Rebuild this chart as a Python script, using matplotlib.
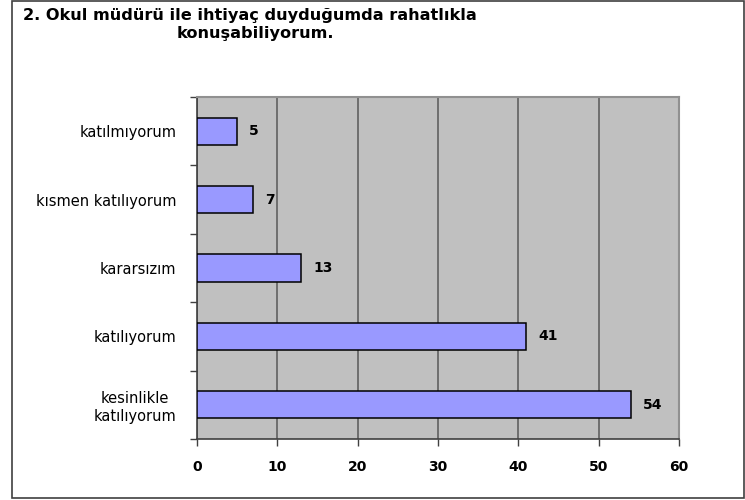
import matplotlib
matplotlib.use('Agg')
import matplotlib.pyplot as plt
from matplotlib.patches import Rectangle
import numpy as np

plt.rcParams['font.family'] = ['DejaVu Sans']

# data (top to bottom)
categories = ['katılmıyorum', 'kısmen katılıyorum', 'kararsızım',
              'katılıyorum', 'kesinlikle\nkatılıyorum']
values = [5, 7, 13, 41, 54]
xticks = [0, 10, 20, 30, 40, 50, 60]

fig = plt.figure(figsize=(7.45, 5), dpi=100)
W, H = 745, 500

# outer frame
fig.patches.append(Rectangle((12/W, 1 - 498/H), (744-12)/W, (498-1)/H,
                             transform=fig.transFigure, fill=False,
                             edgecolor='#404040', linewidth=1.2))

ax = fig.add_axes([197/W, 1 - 439/H, (679-197)/W, (439-97)/H])
ax.set_facecolor('#c0c0c0')

pos = np.arange(len(categories))
ax.barh(pos, values, height=0.4, color='#9999ff', edgecolor='black',
        linewidth=1.1, zorder=3)
for p, v in zip(pos, values):
    ax.text(v + 1.5, p, str(v), va='center', ha='left', fontsize=10,
            fontweight='bold')

ax.set_xlim(0, 60)
ax.set_ylim(len(categories) - 0.5, -0.5)
ax.set_xticks(xticks)
ax.set_xticklabels([str(t) for t in xticks], fontweight='bold', fontsize=10)
ax.set_yticks(pos)
ax.set_yticklabels(categories, fontsize=10.5, multialignment='center')
ax.set_yticks(np.arange(len(categories) + 1) - 0.5, minor=True)
ax.tick_params(axis='y', which='major', length=0, pad=15)
ax.tick_params(axis='y', which='minor', length=5, width=1, color='#404040')
ax.tick_params(axis='x', length=5, width=1, color='#404040', pad=10)

ax.grid(axis='x', color='#606060', linewidth=1.2, zorder=1)
for s in ['top', 'right']:
    ax.spines[s].set_color('#909090')
    ax.spines[s].set_linewidth(1.5)
for s in ['left', 'bottom']:
    ax.spines[s].set_color('#404040')
    ax.spines[s].set_linewidth(1.2)

fig.text(23/W, 1 - 8/H, '2. Okul müdürü ile ihtiyaç duyduğumda rahatlıkla',
         ha='left', va='top', fontsize=11.6, fontweight='bold')
fig.text(177/W, 1 - 26/H, 'konuşabiliyorum.',
         ha='left', va='top', fontsize=11.6, fontweight='bold')

fig.savefig('out.png', dpi=100)
